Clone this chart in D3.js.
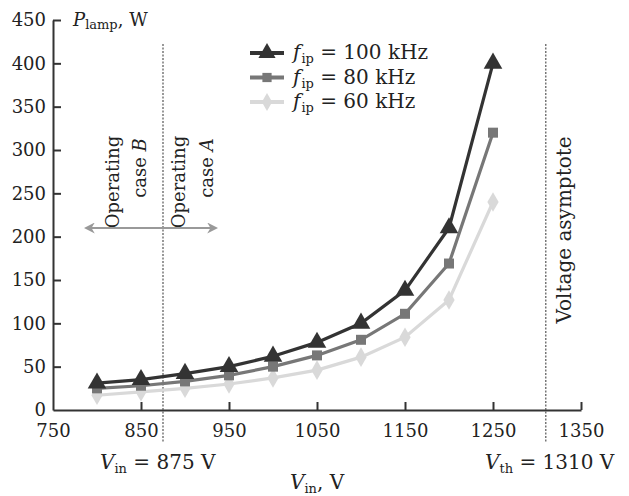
<!DOCTYPE html>
<html>
<head>
<meta charset="utf-8">
<script src="https://cdn.jsdelivr.net/npm/d3@7/dist/d3.min.js"></script>
<style>
  html, body { margin: 0; padding: 0; background: #fff; }
</style>
</head>
<body>
<svg id="chart" width="629" height="496"></svg>
<script>
// Input voltage (V)
const voltages = [800, 850, 900, 950, 1000, 1050, 1100, 1150, 1200, 1250];
// Lamp power (W) for each inverter frequency
const power100 = [31, 35, 42, 50, 62, 78, 100, 138, 210, 400];
const power80  = [25, 28, 33, 40, 50, 63, 81, 111, 169, 320];
const power60  = [17, 21, 25, 30, 37, 46, 61, 84, 127, 240];
const seriesLabels = ["100 kHz", "80 kHz", "60 kHz"];
const xTicks = [750, 850, 950, 1050, 1150, 1250, 1350];
const yTicks = [0, 50, 100, 150, 200, 250, 300, 350, 400, 450];
const vinLimit = 875;   // operating-case boundary
const vthLimit = 1310;  // voltage asymptote

const FONT = "'DejaVu Serif', 'Liberation Serif', serif";
const FS = 18;    // tick labels, axis title
const LFS = 20;   // legend and annotation labels
const SUB = 13;
const svg = d3.select("#chart");
const x = d3.scaleLinear().domain([750, 1350]).range([53, 581]);
const y = d3.scaleLinear().domain([0, 450]).range([410, 20]);

const axisColor = "#333";

function txt(sel, size) {
  return sel.attr("font-family", FONT).attr("font-size", size).attr("fill", "#222");
}

// Axes with inward ticks
const xAxis = svg.append("g").attr("transform", `translate(0,${y(0)})`)
  .call(d3.axisBottom(x).tickValues(xTicks).tickFormat(d3.format("d"))
    .tickSize(-8).tickSizeOuter(0).tickPadding(14));
const yAxis = svg.append("g").attr("transform", `translate(${x(750)},0)`)
  .call(d3.axisLeft(y).tickValues(yTicks).tickFormat(d3.format("d"))
    .tickSize(-8).tickSizeOuter(0).tickPadding(7));
[xAxis, yAxis].forEach(g => {
  g.attr("font-family", FONT).attr("font-size", FS);
  g.select(".domain").attr("stroke", axisColor).attr("stroke-width", 2);
  g.selectAll(".tick line").attr("stroke", axisColor).attr("stroke-width", 2);
  txt(g.selectAll(".tick text"), FS);
});
xAxis.selectAll(".tick").filter(d => d === 750).select("line").remove();
yAxis.selectAll(".tick").filter(d => d === 0).select("line").remove();

// Vertical reference lines
[vinLimit, vthLimit].forEach(v => {
  svg.append("line")
    .attr("x1", x(v)).attr("x2", x(v))
    .attr("y1", 44).attr("y2", 442)
    .attr("stroke", "#555").attr("stroke-width", 1.2)
    .attr("stroke-dasharray", "2,1.5");
});

// Series
const series = [
  { label: seriesLabels[0], values: power100, color: "#333333", shape: d3.symbolTriangle, size: 150 },
  { label: seriesLabels[1], values: power80,  color: "#777777", shape: d3.symbolSquare,   size: 100 },
  { label: seriesLabels[2], values: power60,  color: "#d9d9d9", shape: d3.symbolDiamond,  size: 110 }
];
const line = d3.line().x((d, i) => x(voltages[i])).y(d => y(d));

// Draw lightest first so darker curves sit on top
series.slice().reverse().forEach(s => {
  svg.append("path").datum(s.values)
    .attr("d", line).attr("fill", "none")
    .attr("stroke", s.color).attr("stroke-width", 3.2);
  svg.append("g").selectAll("path").data(s.values).join("path")
    .attr("transform", (d, i) => `translate(${x(voltages[i])},${y(d)})`)
    .attr("d", d3.symbol().type(s.shape).size(s.size))
    .attr("fill", s.color);
});

// Legend
const legend = svg.append("g");
series.forEach((s, i) => {
  const yy = 53 + i * 24.5;
  legend.append("line").attr("x1", 250).attr("x2", 284).attr("y1", yy).attr("y2", yy)
    .attr("stroke", s.color).attr("stroke-width", 4);
  legend.append("path").attr("transform", `translate(267,${yy})`)
    .attr("d", d3.symbol().type(s.shape).size(s.size * 0.85)).attr("fill", s.color);
  const t = txt(legend.append("text").attr("x", 293).attr("y", yy + 6), LFS);
  t.append("tspan").attr("font-style", "italic").text("f");
  t.append("tspan").attr("dy", 4).attr("dx", 1).attr("font-size", SUB).text("ip");
  t.append("tspan").attr("dy", -4).text(" = " + s.label);
});

// Axis titles
const yTitle = txt(svg.append("text").attr("x", 73).attr("y", 26), FS);
yTitle.append("tspan").attr("font-style", "italic").text("P");
yTitle.append("tspan").attr("dy", 3).attr("font-size", SUB).text("lamp");
yTitle.append("tspan").attr("dy", -3).text(",  W");

const xTitle = txt(svg.append("text").attr("x", 290).attr("y", 489), LFS);
xTitle.append("tspan").attr("font-style", "italic").text("V");
xTitle.append("tspan").attr("dy", 4).attr("font-size", SUB).text("in");
xTitle.append("tspan").attr("dy", -4).text(",  V");

function limitLabel(xPos, sub, value) {
  const t = txt(svg.append("text").attr("x", xPos).attr("y", 469), LFS);
  t.append("tspan").attr("font-style", "italic").text("V");
  t.append("tspan").attr("dy", 4).attr("font-size", SUB).text(sub);
  t.append("tspan").attr("dy", -4).text(" = " + value + " V");
}
limitLabel(100, "in", vinLimit);
limitLabel(485, "th", vthLimit);

// Rotated annotations, placed relative to the boundary lines
function rotated(xPos, yPos, parts, size) {
  const t = txt(svg.append("text")
    .attr("transform", `translate(${xPos},${yPos}) rotate(-90)`)
    .attr("text-anchor", "middle"), size);
  parts.forEach(p => {
    const s = t.append("tspan").text(p.text);
    if (p.italic) s.attr("font-style", "italic");
  });
}
const xb = x(vinLimit);
rotated(xb - 44, 182, [{ text: "Operating" }], FS);
rotated(xb - 17, 168, [{ text: "case " }, { text: "B", italic: true }], FS);
rotated(xb + 22, 182, [{ text: "Operating" }], FS);
rotated(xb + 50, 168, [{ text: "case " }, { text: "A", italic: true }], FS);
rotated(x(vthLimit) + 25, 230, [{ text: "Voltage asymptote" }], LFS);

// Double-headed arrow across the boundary
const defs = svg.append("defs");
defs.append("marker").attr("id", "head").attr("viewBox", "0 0 10 10")
  .attr("refX", 8).attr("refY", 5).attr("markerWidth", 5).attr("markerHeight", 5)
  .attr("orient", "auto-start-reverse")
  .append("path").attr("d", "M0,0 L10,5 L0,10 L3,5 Z").attr("fill", "#999");
svg.append("line").attr("x1", 86).attr("x2", 216).attr("y1", 228).attr("y2", 228)
  .attr("stroke", "#999").attr("stroke-width", 2.2)
  .attr("marker-start", "url(#head)").attr("marker-end", "url(#head)");
</script>
</body>
</html>
